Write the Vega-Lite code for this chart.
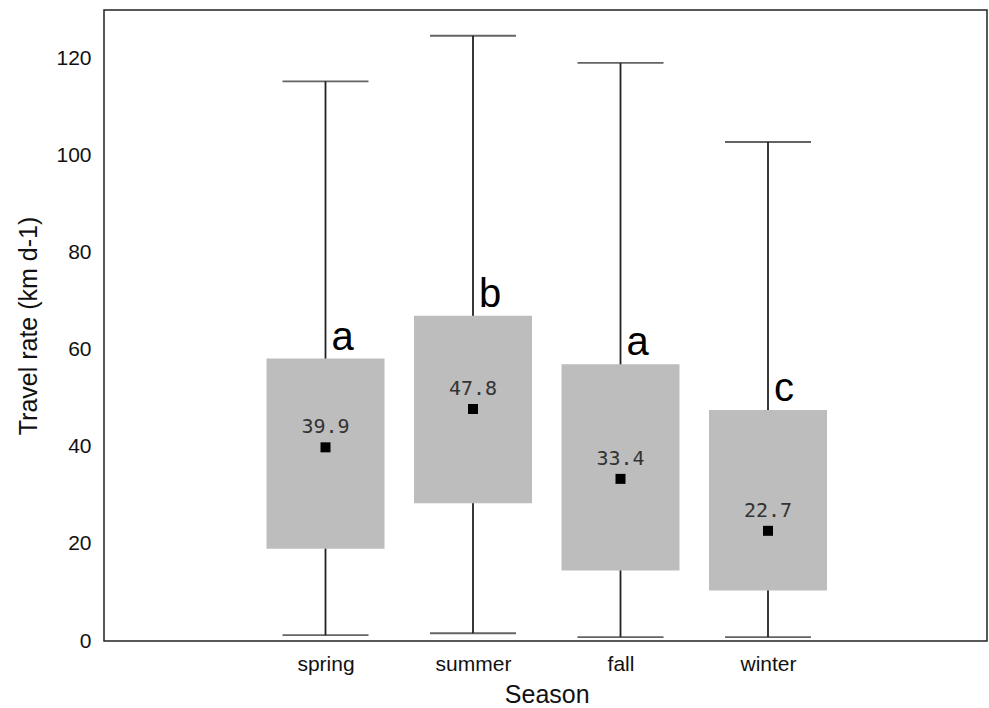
{
  "$schema": "https://vega.github.io/schema/vega-lite/v6.json",
  "width": 883,
  "height": 631,
  "autosize": {"type": "none"},
  "padding": {"left": 104, "top": 10, "right": 2, "bottom": 67},
  "background": "white",
  "config": {
    "view": {"stroke": "#222", "strokeWidth": 1.5},
    "font": "Liberation Sans",
    "axisY": {
      "domain": false,
      "ticks": false,
      "grid": false,
      "labelFontSize": 21,
      "labelColor": "#111",
      "labelPadding": 13,
      "titleFontSize": 25,
      "titleFontWeight": "normal",
      "titleColor": "#111",
      "titlePadding": 14
    }
  },
  "data": {
    "values": [
      {"season": "spring", "lo": 1.2, "q1": 19.0, "q3": 58.2, "hi": 115.3, "mean": 39.9, "letter": "a"},
      {"season": "summer", "lo": 1.6, "q1": 28.4, "q3": 67.0, "hi": 124.7, "mean": 47.8, "letter": "b"},
      {"season": "fall", "lo": 0.8, "q1": 14.5, "q3": 57.0, "hi": 119.1, "mean": 33.4, "letter": "a"},
      {"season": "winter", "lo": 0.8, "q1": 10.4, "q3": 47.6, "hi": 102.8, "mean": 22.7, "letter": "c"}
    ]
  },
  "encoding": {
    "x": {
      "field": "season",
      "type": "nominal",
      "sort": ["spring", "summer", "fall", "winter"],
      "scale": {"type": "point", "padding": 0, "range": [221.5, 664]},
      "axis": {
        "title": "Season",
        "labelAngle": 0,
        "domain": false,
        "ticks": false,
        "grid": false,
        "labelFontSize": 21,
        "labelColor": "#111",
        "labelPadding": 12,
        "titleFontSize": 25,
        "titleFontWeight": "normal",
        "titleColor": "#111",
        "titlePadding": 8
      }
    }
  },
  "layer": [
    {
      "mark": {"type": "rule", "color": "#222", "strokeWidth": 1.8},
      "encoding": {
        "y": {
          "field": "lo",
          "type": "quantitative",
          "title": "Travel rate (km d-1)",
          "scale": {"domain": [0, 130], "nice": false, "zero": true},
          "axis": {"values": [0, 20, 40, 60, 80, 100, 120]}
        },
        "y2": {"field": "hi"}
      }
    },
    {
      "mark": {"type": "tick", "color": "#222", "size": 86, "thickness": 1.8, "orient": "horizontal"},
      "encoding": {
        "y": {"field": "hi", "type": "quantitative", "title": "Travel rate (km d-1)"}
      }
    },
    {
      "mark": {"type": "tick", "color": "#222", "size": 86, "thickness": 1.8, "orient": "horizontal"},
      "encoding": {
        "y": {"field": "lo", "type": "quantitative", "title": "Travel rate (km d-1)"}
      }
    },
    {
      "mark": {"type": "bar", "color": "#bdbdbd", "width": 118},
      "encoding": {
        "y": {"field": "q1", "type": "quantitative", "title": "Travel rate (km d-1)"},
        "y2": {"field": "q3"}
      }
    },
    {
      "mark": {"type": "point", "shape": "square", "filled": true, "size": 100, "color": "black", "opacity": 1},
      "encoding": {
        "y": {"field": "mean", "type": "quantitative", "title": "Travel rate (km d-1)"}
      }
    },
    {
      "mark": {"type": "text", "font": "DejaVu Sans Mono", "fontSize": 20, "color": "#333", "dy": -20, "baseline": "middle"},
      "encoding": {
        "y": {"field": "mean", "type": "quantitative", "title": "Travel rate (km d-1)"},
        "text": {"field": "mean", "type": "quantitative", "format": ".1f"}
      }
    },
    {
      "mark": {"type": "text", "fontSize": 40, "color": "black", "align": "left", "baseline": "alphabetic", "dx": 6, "dy": -9},
      "encoding": {
        "y": {"field": "q3", "type": "quantitative", "title": "Travel rate (km d-1)"},
        "text": {"field": "letter", "type": "nominal"}
      }
    }
  ]
}
